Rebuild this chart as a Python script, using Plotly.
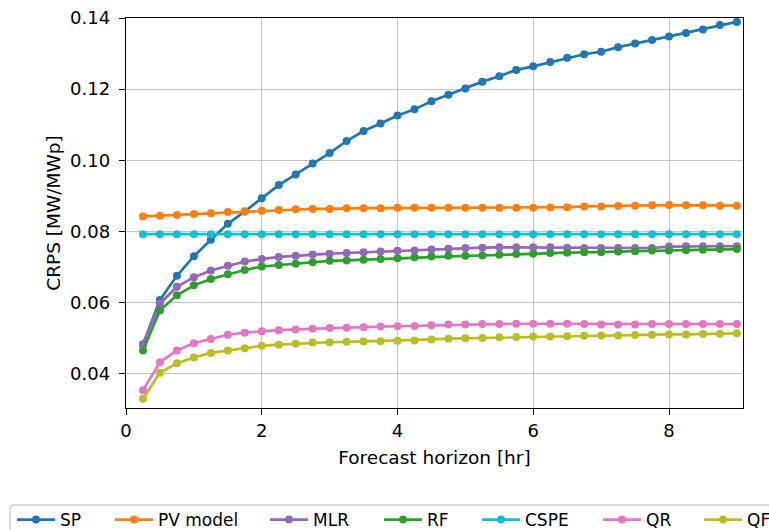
import plotly.graph_objects as go

horizon = [0.25, 0.5, 0.75, 1.0, 1.25, 1.5, 1.75, 2.0, 2.25, 2.5, 2.75, 3.0,
           3.25, 3.5, 3.75, 4.0, 4.25, 4.5, 4.75, 5.0, 5.25, 5.5, 5.75, 6.0,
           6.25, 6.5, 6.75, 7.0, 7.25, 7.5, 7.75, 8.0, 8.25, 8.5, 8.75, 9.0]

sp = [0.0482, 0.0607, 0.0675, 0.0730, 0.0776, 0.0821, 0.0856, 0.0893, 0.0930, 0.0960,
      0.0991, 0.1020, 0.1054, 0.1082, 0.1103, 0.1126, 0.1143, 0.1166, 0.1184, 0.1202,
      0.1221, 0.1236, 0.1254, 0.1264, 0.1276, 0.1288, 0.1298, 0.1305, 0.1318, 0.1328,
      0.1338, 0.1348, 0.1358, 0.1368, 0.1380, 0.1389]
pv_model = [0.0842, 0.0844, 0.0846, 0.0849, 0.0851, 0.0854, 0.0856, 0.0858, 0.0860, 0.0862,
            0.0863, 0.0863, 0.0865, 0.0865, 0.0865, 0.0866, 0.0866, 0.0866, 0.0866, 0.0866,
            0.0866, 0.0866, 0.0866, 0.0866, 0.0867, 0.0868, 0.0870, 0.0870, 0.0871, 0.0872,
            0.0873, 0.0874, 0.0873, 0.0873, 0.0872, 0.0872]
mlr = [0.0481, 0.0597, 0.0644, 0.0671, 0.0690, 0.0703, 0.0715, 0.0722, 0.0728, 0.0731,
       0.0735, 0.0737, 0.0739, 0.0741, 0.0743, 0.0745, 0.0746, 0.0749, 0.0751, 0.0753,
       0.0754, 0.0755, 0.0755, 0.0755, 0.0755, 0.0754, 0.0753, 0.0753, 0.0753, 0.0753,
       0.0753, 0.0757, 0.0758, 0.0758, 0.0758, 0.0758]
rf = [0.0465, 0.0577, 0.0620, 0.0648, 0.0666, 0.0679, 0.0691, 0.0701, 0.0705, 0.0709,
      0.0713, 0.0717, 0.0718, 0.0720, 0.0722, 0.0724, 0.0727, 0.0729, 0.0731, 0.0731,
      0.0732, 0.0734, 0.0736, 0.0737, 0.0739, 0.0740, 0.0741, 0.0741, 0.0743, 0.0744,
      0.0746, 0.0746, 0.0747, 0.0748, 0.0750, 0.0750]
cspe = [0.0792] * 36
qr = [0.0353, 0.0432, 0.0465, 0.0485, 0.0497, 0.0509, 0.0515, 0.0519, 0.0522, 0.0524,
      0.0526, 0.0528, 0.0529, 0.0530, 0.0532, 0.0533, 0.0534, 0.0536, 0.0538, 0.0538,
      0.0539, 0.0539, 0.0540, 0.0540, 0.0540, 0.0540, 0.0539, 0.0538, 0.0538, 0.0538,
      0.0539, 0.0539, 0.0539, 0.0539, 0.0539, 0.0539]
qf = [0.0329, 0.0402, 0.0429, 0.0445, 0.0458, 0.0465, 0.0471, 0.0478, 0.0481, 0.0484,
      0.0487, 0.0488, 0.0489, 0.0490, 0.0491, 0.0492, 0.0493, 0.0496, 0.0498, 0.0499,
      0.0500, 0.0502, 0.0503, 0.0504, 0.0504, 0.0505, 0.0506, 0.0507, 0.0507, 0.0508,
      0.0509, 0.0510, 0.0510, 0.0511, 0.0512, 0.0513]

series_names = ["SP", "PV model", "MLR", "RF", "CSPE", "QR", "QF"]
series_values = [sp, pv_model, mlr, rf, cspe, qr, qf]
colors = ["#1f77b4", "#ff7f0e", "#9467bd", "#2ca02c", "#17becf", "#e377c2", "#bcbd22"]
x_ticks = [0, 2, 4, 6, 8]
y_ticks = [0.04, 0.06, 0.08, 0.10, 0.12, 0.14]

W, H = 769, 530
L, R, T, B = 126, 743, 18, 408
legend_symbol_x = [15, 113, 268, 382, 480, 601, 702]
FONT = "DejaVu Sans"

fig = go.Figure()
legend_ids = ["legend"] + ["legend%d" % i for i in range(2, 8)]
for name, vals, col, lid in zip(series_names, series_values, colors, legend_ids):
    fig.add_trace(go.Scatter(
        x=horizon, y=vals, name=name, mode="lines+markers",
        line=dict(color=col, width=2.7),
        marker=dict(color=col, size=8),
        legend=lid, showlegend=True,
    ))

layout_legends = {}
for lid, sx in zip(legend_ids, legend_symbol_x):
    layout_legends[lid] = dict(
        xref="container", yref="container",
        x=(sx - 3) / W, y=1 - 520 / H, xanchor="left", yanchor="middle",
        orientation="h", bgcolor="rgba(0,0,0,0)", borderwidth=0, visible=True,
        itemwidth=38, font=dict(family=FONT, size=17, color="#000"),
    )

def px2paper(px, py):
    return (px - L) / (R - L), (B - py) / (B - T)

x0, yb = px2paper(10, 560)
_, y1 = px2paper(10, 509)
_, yt = px2paper(10, 505)
x1, _ = px2paper(14, 505)
x2, _ = px2paper(800, 505)
box_path = f"M {x0},{yb} L {x0},{y1} Q {x0},{yt} {x1},{yt} L {x2},{yt}"

axis_common = dict(
    showline=True, linecolor="#000", linewidth=1.4, mirror=True,
    ticks="outside", ticklen=6, tickwidth=1.4, tickcolor="#000",
    showgrid=True, gridcolor="#c4c4c4", gridwidth=1.4, zeroline=False,
    tickfont=dict(family=FONT, size=18, color="#000"),
)

fig.update_layout(
    width=W, height=H, showlegend=True,
    margin=dict(l=L, r=W - R, t=T, b=H - B, autoexpand=False),
    paper_bgcolor="white", plot_bgcolor="white",
    font=dict(family=FONT, size=18, color="#000"),
    xaxis=dict(range=[0, 9.09], tickvals=x_ticks, ticktext=[str(v) for v in x_ticks],
               title=dict(text="Forecast horizon [hr]", font=dict(family=FONT, size=18.5), standoff=11),
               **axis_common),
    yaxis=dict(range=[0.0303, 0.14], tickvals=y_ticks, tickformat=".2f",
               ticklabelstandoff=5,
               title=dict(text="CRPS [MW/MWp]", font=dict(family=FONT, size=18.5), standoff=4),
               **axis_common),
    shapes=[dict(type="path", xref="paper", yref="paper", path=box_path,
                 line=dict(color="#cccccc", width=1.3), layer="above")],
    **layout_legends,
)

fig.write_html("out.html", config={"displayModeBar": False},
               post_script="document.body.style.margin='0';document.body.style.overflow='hidden';")
